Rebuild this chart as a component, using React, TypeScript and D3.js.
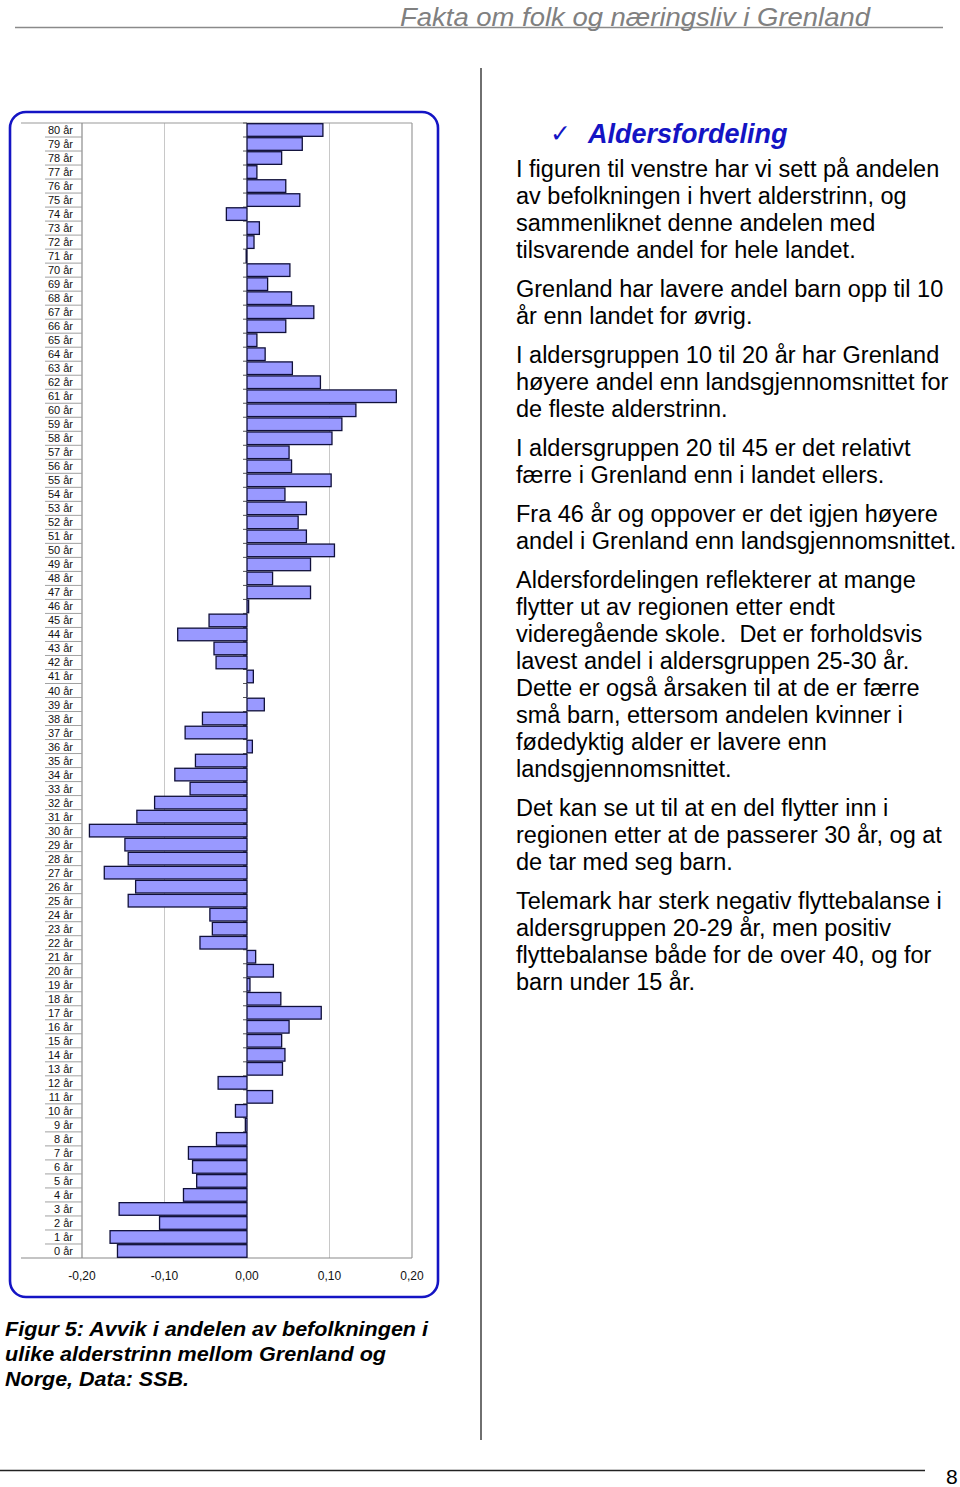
import React from "react";
import * as d3 from "d3";

const ageLabels = [
  "80 år","79 år","78 år","77 år","76 år","75 år","74 år","73 år","72 år","71 år",
  "70 år","69 år","68 år","67 år","66 år","65 år","64 år","63 år","62 år","61 år",
  "60 år","59 år","58 år","57 år","56 år","55 år","54 år","53 år","52 år","51 år",
  "50 år","49 år","48 år","47 år","46 år","45 år","44 år","43 år","42 år","41 år",
  "40 år","39 år","38 år","37 år","36 år","35 år","34 år","33 år","32 år","31 år",
  "30 år","29 år","28 år","27 år","26 år","25 år","24 år","23 år","22 år","21 år",
  "20 år","19 år","18 år","17 år","16 år","15 år","14 år","13 år","12 år","11 år",
  "10 år","9 år","8 år","7 år","6 år","5 år","4 år","3 år","2 år","1 år","0 år",
];

const deviation = [
  0.092, 0.067, 0.042, 0.012, 0.047, 0.064, -0.025, 0.015, 0.0085, -0.001,
  0.052, 0.025, 0.054, 0.081, 0.047, 0.012, 0.022, 0.055, 0.089, 0.181,
  0.132, 0.115, 0.103, 0.051, 0.054, 0.102, 0.046, 0.072, 0.062, 0.072,
  0.106, 0.077, 0.031, 0.077, 0.002, -0.046, -0.084, -0.040, -0.0375, 0.0077,
  0, 0.021, -0.054, -0.075, 0.0065, -0.0625, -0.0875, -0.069, -0.112, -0.1335,
  -0.191, -0.148, -0.144, -0.173, -0.135, -0.144, -0.045, -0.042, -0.057, 0.0105,
  0.032, 0.0036, 0.041, 0.090, 0.051, 0.042, 0.046, 0.043, -0.035, 0.031,
  -0.014, -0.002, -0.037, -0.071, -0.066, -0.061, -0.077, -0.155, -0.106, -0.166, -0.157,
];

const xTicks = [-0.2, -0.1, 0, 0.1, 0.2];

const headerText = "Fakta om folk og næringsliv i Grenland";
const heading = "Aldersfordeling";
const paragraphs = [
  ["I figuren til venstre har vi sett på andelen", "av befolkningen i hvert alderstrinn, og", "sammenliknet denne andelen med", "tilsvarende andel for hele landet."],
  ["Grenland har lavere andel barn opp til 10", "år enn landet for øvrig."],
  ["I aldersgruppen 10 til 20 år har Grenland", "høyere andel enn landsgjennomsnittet for", "de fleste alderstrinn."],
  ["I aldersgruppen 20 til 45 er det relativt", "færre i Grenland enn i landet ellers."],
  ["Fra 46 år og oppover er det igjen høyere", "andel i Grenland enn landsgjennomsnittet."],
  ["Aldersfordelingen reflekterer at mange", "flytter ut av regionen etter endt", "videregående skole.  Det er forholdsvis", "lavest andel i aldersgruppen 25-30 år.", "Dette er også årsaken til at de er færre", "små barn, ettersom andelen kvinner i", "fødedyktig alder er lavere enn", "landsgjennomsnittet."],
  ["Det kan se ut til at en del flytter inn i", "regionen etter at de passerer 30 år, og at", "de tar med seg barn."],
  ["Telemark har sterk negativ flyttebalanse i", "aldersgruppen 20-29 år, men positiv", "flyttebalanse både for de over 40, og for", "barn under 15 år."],
];
const captionLines = [
  "Figur 5: Avvik i andelen av befolkningen i",
  "ulike alderstrinn mellom Grenland og",
  "Norge, Data: SSB.",
];
const captionWidths = [423, 381, 184];

const W = 960;
const H = 1487;
const plot = { left: 82, right: 412, top: 123, bottom: 1258 };
const sans = "'Liberation Sans', Arial, Helvetica, sans-serif";
const narrow = "'Liberation Sans Narrow', 'Liberation Sans', Arial, sans-serif";

export default function App() {
  const x = d3.scaleLinear().domain([-0.2, 0.2]).range([plot.left, plot.right]);
  const y = d3
    .scaleBand<string>()
    .domain(ageLabels)
    .range([plot.top, plot.bottom])
    .paddingInner(0.1)
    .paddingOuter(0.05);
  const rowH = (plot.bottom - plot.top) / ageLabels.length;
  const bandTop = (i: number) => plot.top + i * rowH;
  const fmt = (v: number) => d3.format(".2f")(v).replace(".", ",").replace("−", "-");

  const lines: { text: string; y: number }[] = [];
  let yy = 177;
  paragraphs.forEach((p, pi) => {
    if (pi > 0) yy += 12;
    p.forEach((t) => {
      lines.push({ text: t, y: yy });
      yy += 27;
    });
  });

  return (
    <svg
      width={W}
      height={H}
      style={{ position: "absolute", left: 0, top: 0, display: "block", background: "#fff" }}
    >
      {/* header */}
      <line x1={15} x2={943} y1={27.5} y2={27.5} stroke="#8a8a8a" strokeWidth={1.3} />
      <text
        x={400}
        y={26}
        fontFamily={narrow}
        fontStyle="italic"
        fontSize={26}
        fill="#808080"
        textLength={470}
        lengthAdjust="spacingAndGlyphs"
      >
        {headerText}
      </text>

      {/* divider */}
      <line x1={481} x2={481} y1={68} y2={1440} stroke="#222" strokeWidth={1.3} />

      {/* chart frame */}
      <rect x={10} y={112} width={428} height={1185} rx={16} ry={16} fill="#fff" stroke="#1414c4" strokeWidth={2.6} />

      {/* gridlines */}
      {[-0.1, 0.1].map((t) => (
        <line key={t} x1={x(t)} x2={x(t)} y1={plot.top} y2={plot.bottom} stroke="#c8c8c8" strokeWidth={1} />
      ))}
      <line x1={plot.right} x2={plot.right} y1={plot.top} y2={plot.bottom} stroke="#9a9a9a" strokeWidth={1.2} />
      <line x1={21} x2={plot.right} y1={plot.top} y2={plot.top} stroke="#9a9a9a" strokeWidth={1.2} />
      <line x1={21} x2={plot.right} y1={plot.bottom} y2={plot.bottom} stroke="#8a8a8a" strokeWidth={1.2} />
      <line x1={plot.left} x2={plot.left} y1={plot.top} y2={plot.bottom} stroke="#8a8a8a" strokeWidth={1.2} />

      {/* category separators and labels */}
      {ageLabels.map((a, i) => (
        <g key={a}>
          {i > 0 && (
            <line x1={45} x2={plot.left} y1={bandTop(i)} y2={bandTop(i)} stroke="#a0a0a0" strokeWidth={1} />
          )}
          <line x1={x(0) - 4} x2={x(0)} y1={bandTop(i)} y2={bandTop(i)} stroke="#555" strokeWidth={1} />
          <text
            x={73}
            y={bandTop(i) + rowH / 2 + 4}
            textAnchor="end"
            fontFamily={sans}
            fontSize={11}
            fill="#111"
          >
            {a}
          </text>
        </g>
      ))}

      {/* bars */}
      {ageLabels.map((a, i) => {
        const v = deviation[i];
        const x0 = x(Math.min(0, v));
        const x1 = x(Math.max(0, v));
        return (
          <rect
            key={"b" + a}
            x={x0}
            y={y(a)!}
            width={Math.max(x1 - x0, 0.01)}
            height={y.bandwidth()}
            fill="#9999ff"
            stroke="#10103a"
            strokeWidth={1.3}
          />
        );
      })}

      {/* x tick labels */}
      {xTicks.map((t) => (
        <text
          key={"t" + t}
          x={x(t)}
          y={1280}
          textAnchor="middle"
          fontFamily={sans}
          fontSize={12}
          fill="#111"
        >
          {fmt(t)}
        </text>
      ))}

      {/* caption */}
      {captionLines.map((c, i) => (
        <text
          key={"c" + i}
          x={5}
          y={1336 + i * 25}
          fontFamily={narrow}
          fontStyle="italic"
          fontWeight="bold"
          fontSize={21}
          fill="#000"
          textLength={captionWidths[i]}
          lengthAdjust="spacingAndGlyphs"
        >
          {c}
        </text>
      ))}

      {/* right column */}
      <text x={550} y={142} fontFamily="'DejaVu Sans', sans-serif" fontSize={25} fill="#1414c4">
        ✓
      </text>
      <text x={588} y={143} fontFamily={sans} fontStyle="italic" fontWeight="bold" fontSize={27} fill="#1414c4">
        {heading}
      </text>
      {lines.map((l, i) => (
        <text
          key={"l" + i}
          x={516}
          y={l.y}
          fontFamily={sans}
          fontSize={23.5}
          fill="#000"
          style={{ whiteSpace: "pre" }}
        >
          {l.text}
        </text>
      ))}

      {/* footer */}
      <line x1={0} x2={925} y1={1470.5} y2={1470.5} stroke="#222" strokeWidth={1.3} />
      <text x={946} y={1484} fontFamily={narrow} fontSize={21} fill="#000">
        8
      </text>
    </svg>
  );
}
